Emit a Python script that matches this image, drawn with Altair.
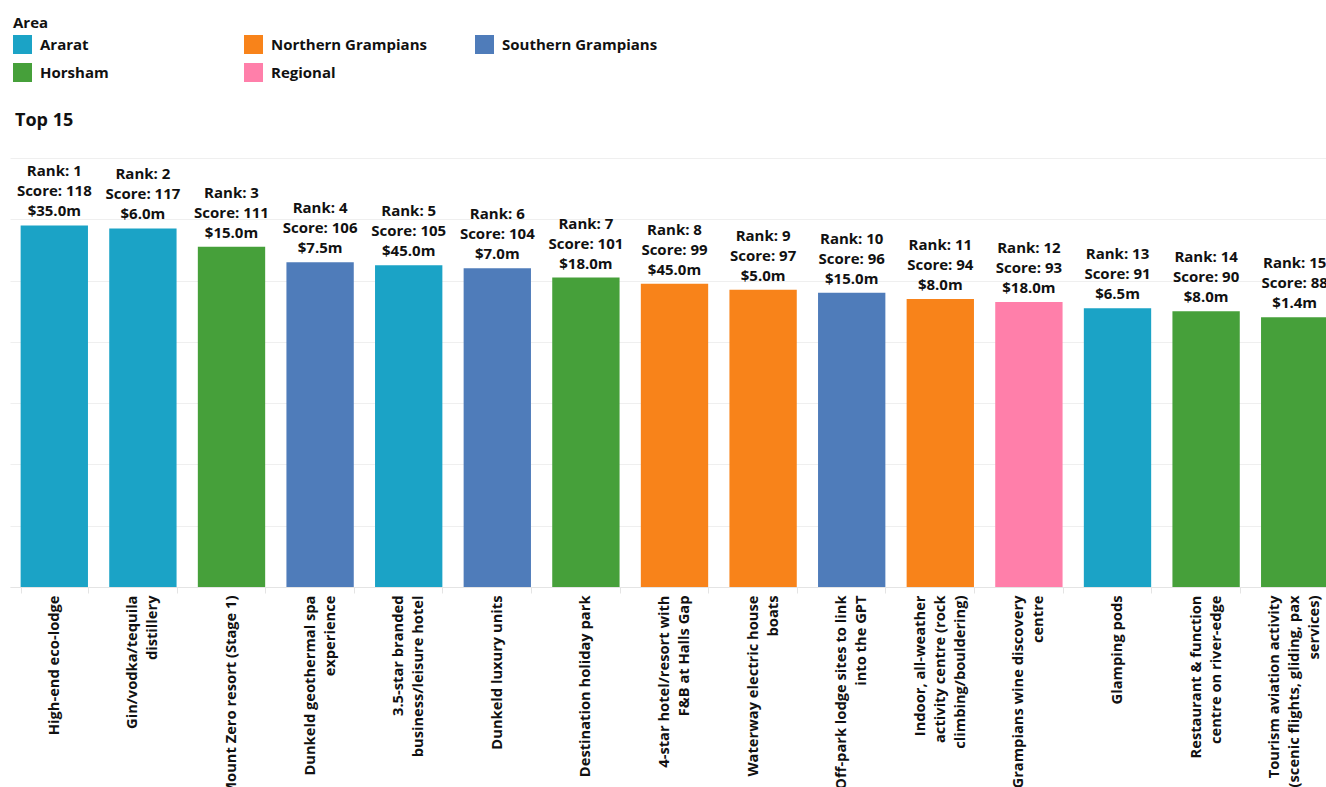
import altair as alt
import pandas as pd

ranks = list(range(1, 16))
projects = [
    "High-end eco-lodge",
    "Gin/vodka/tequila\ndistillery",
    "Mount Zero resort (Stage 1)",
    "Dunkeld geothermal spa\nexperience",
    "3.5-star branded\nbusiness/leisure hotel",
    "Dunkeld luxury units",
    "Destination holiday park",
    "4-star hotel/resort with\nF&B at Halls Gap",
    "Waterway electric house\nboats",
    "Off-park lodge sites to link\ninto the GPT",
    "Indoor, all-weather\nactivity centre (rock\nclimbing/bouldering)",
    "Grampians wine discovery\ncentre",
    "Glamping pods",
    "Restaurant & function\ncentre on river-edge",
    "Tourism aviation activity\n(scenic flights, gliding, pax\nservices)",
]
scores = [118, 117, 111, 106, 105, 104, 101, 99, 97, 96, 94, 93, 91, 90, 88]
costs = [35.0, 6.0, 15.0, 7.5, 45.0, 7.0, 18.0, 45.0, 5.0, 15.0, 8.0, 18.0, 6.5, 8.0, 1.4]
areas = [
    "Ararat", "Ararat", "Horsham", "Southern Grampians", "Ararat",
    "Southern Grampians", "Horsham", "Northern Grampians", "Northern Grampians",
    "Southern Grampians", "Northern Grampians", "Regional", "Ararat", "Horsham", "Horsham",
]
area_order = ["Ararat", "Horsham", "Northern Grampians", "Regional", "Southern Grampians"]
area_colors = ["#1ba3c6", "#46a03a", "#f8831a", "#ff7faa", "#4f7cba"]

df = pd.DataFrame({
    "rank": ranks,
    "project": projects,
    "score": scores,
    "cost": costs,
    "area": areas,
})
df["label"] = [
    f"Rank: {r}\nScore: {s}\n${c:.1f}m" for r, s, c in zip(ranks, scores, costs)
]

FONT = "Open Sans"
sort_rank = alt.EncodingSortField(field="rank", order="ascending")

x_enc = alt.X(
    "project:N",
    sort=sort_rank,
    scale=alt.Scale(paddingInner=0.24, paddingOuter=0.12),
    axis=alt.Axis(
        title=None,
        labelAngle=-90,
        labelAlign="right",
        labelBaseline="middle",
        labelExpr="split(datum.label, '\\n')",
        labelOffset=alt.ExprRef("-(length(split(datum.label, '\\n')) - 1) * 10"),
        labelFont=FONT,
        labelFontSize=14.7,
        labelFontWeight="bold",
        labelColor="#111111",
        labelLineHeight=20,
        labelPadding=2,
        labelLimit=0,
        tickBand="extent",
        tickSize=6,
        tickColor="#e4e4e4",
        domainColor="#e4e4e4",
        grid=False,
    ),
)
y_enc = alt.Y(
    "score:Q",
    scale=alt.Scale(domain=[0, 140], nice=False),
    axis=alt.Axis(
        title=None,
        labels=False,
        ticks=False,
        domain=False,
        values=[0, 20, 40, 60, 80, 100, 120, 140],
        gridColor="#efefef",
    ),
)

base = alt.Chart(df)

bars = base.mark_bar().encode(
    x=x_enc,
    y=y_enc,
    color=alt.Color(
        "area:N",
        scale=alt.Scale(domain=area_order, range=area_colors),
        legend=alt.Legend(
            title="Area",
            orient="none",
            legendX=3,
            legendY=-142,
            columns=3,
            gridAlign="all",
            columnPadding=48,
            rowPadding=9,
            symbolType="square",
            symbolSize=361,
            symbolStrokeWidth=0,
            labelOffset=8,
            labelFont=FONT,
            labelFontSize=15,
            labelFontWeight="bold",
            labelColor="#111111",
            titleFont=FONT,
            titleFontSize=15,
            titleFontWeight="bold",
            titleColor="#111111",
            titlePadding=4,
        ),
    ),
)

labels = base.mark_text(
    baseline="bottom",
    align="center",
    dy=-46,
    lineBreak="\n",
    lineHeight=20,
    font=FONT,
    fontSize=15,
    fontWeight="bold",
    color="#111111",
).encode(
    x=alt.X("project:N", sort=sort_rank),
    y="score:Q",
    text="label:N",
)

title_df = pd.DataFrame({"t": ["Top 15"]})
title = alt.Chart(title_df).mark_text(
    align="left",
    baseline="middle",
    font=FONT,
    fontSize=18,
    fontWeight="bold",
    color="#111111",
).encode(
    x=alt.value(5),
    y=alt.value(-37),
    text="t:N",
)

chart = alt.layer(bars, labels, title).properties(
    width=1329,
    height=429,
    autosize=alt.AutoSizeParams(type="none"),
    padding={"left": 10, "top": 158, "right": -13, "bottom": 200},
).configure_view(stroke=None)

chart.save("out.html", embed_options={"renderer": "svg", "actions": False})
